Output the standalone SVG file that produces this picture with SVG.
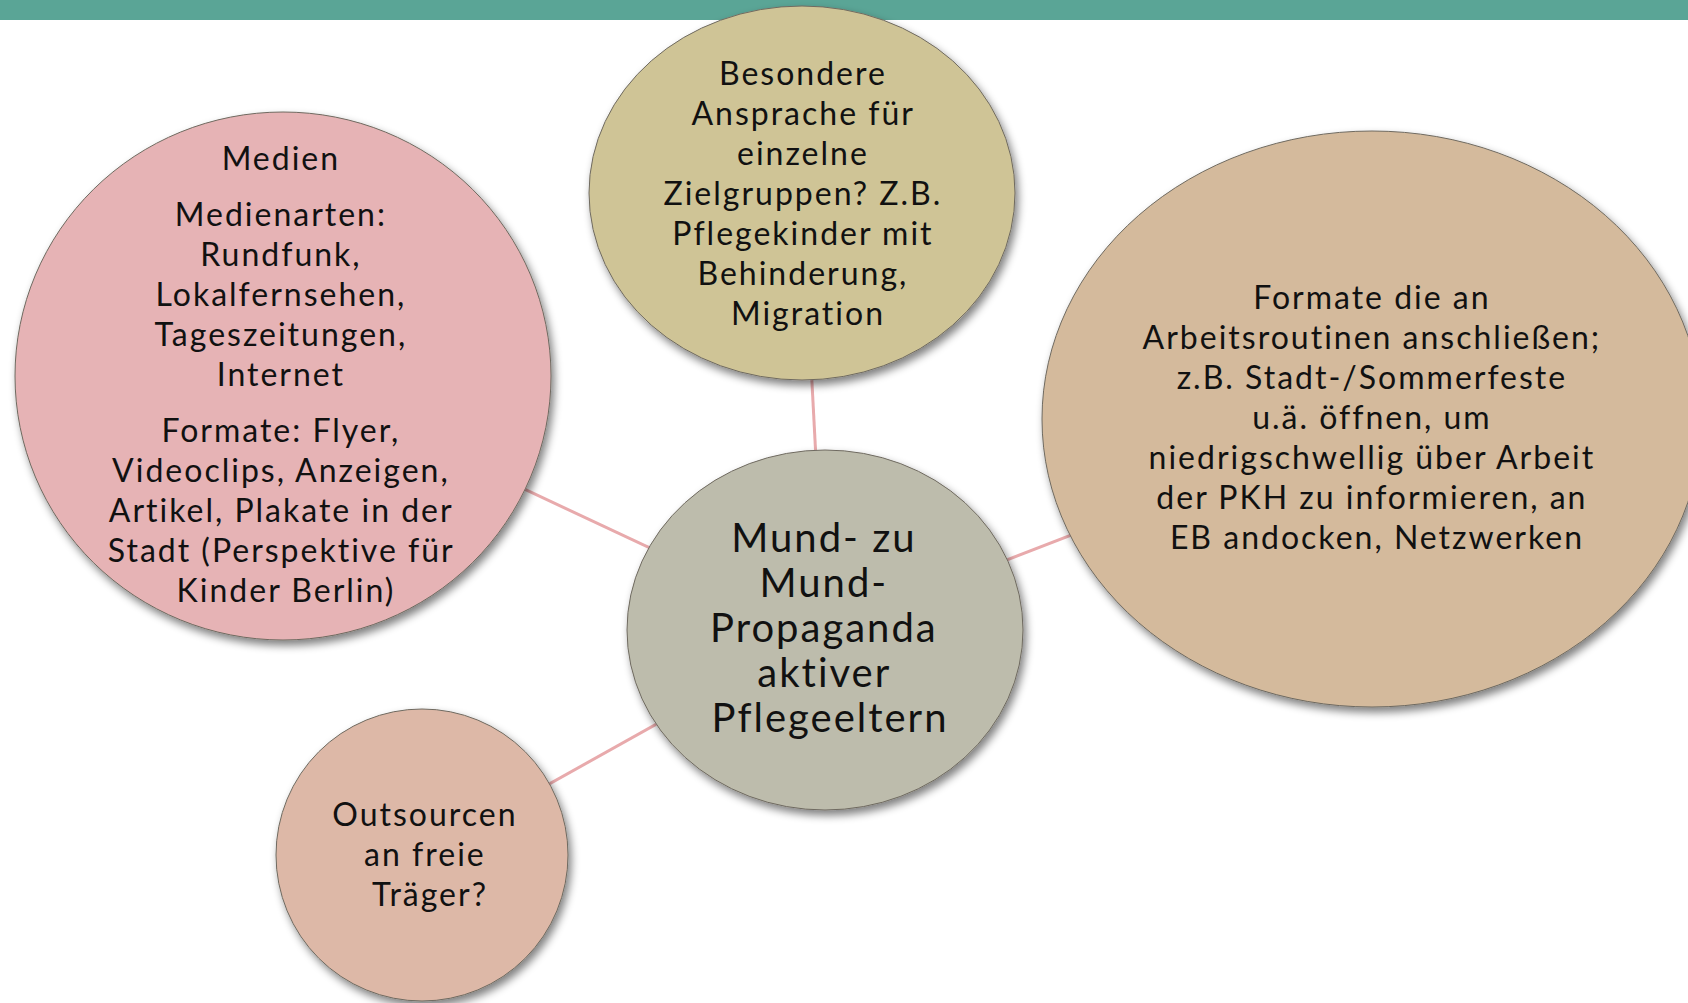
<svg xmlns="http://www.w3.org/2000/svg" width="1688" height="1003" viewBox="0 0 1688 1003">
<defs>
<filter id="sh" x="-10%" y="-10%" width="125%" height="125%">
<feGaussianBlur in="SourceAlpha" stdDeviation="4"/>
<feOffset dx="3" dy="5" result="o"/>
<feComponentTransfer><feFuncA type="linear" slope="0.5"/></feComponentTransfer>
<feMerge><feMergeNode/><feMergeNode in="SourceGraphic"/></feMerge>
</filter>
<style>
.bub{stroke:#6f6a60;stroke-width:1;filter:url(#sh)}
.t{font-family:Lato,"Liberation Sans",sans-serif;font-size:32px;fill:#111;text-anchor:middle;letter-spacing:2px}
.tc{font-size:40px}
.link{stroke:#E8AAAC;stroke-width:3;fill:none}
</style>
</defs>
<rect x="0" y="0" width="1688" height="20" fill="#5AA596"/>
<g id="connectors">
<line class="link" x1="825" y1="630" x2="283" y2="376"/>
<line class="link" x1="825" y1="630" x2="802" y2="193"/>
<line class="link" x1="825" y1="630" x2="1372" y2="419"/>
<line class="link" x1="825" y1="630" x2="422" y2="855"/>
</g>
<g id="node-medien">
<ellipse class="bub" cx="283" cy="376" rx="268" ry="264" fill="#E6B3B5"/>
<text class="t">
<tspan x="286" y="170">Medien</tspan>
<tspan x="286" y="226">Medienarten:</tspan>
<tspan x="286" y="266">Rundfunk,</tspan>
<tspan x="286" y="306">Lokalfernsehen,</tspan>
<tspan x="286" y="346">Tageszeitungen,</tspan>
<tspan x="286" y="386">Internet</tspan>
<tspan x="286" y="442">Formate: Flyer,</tspan>
<tspan x="286" y="482">Videoclips, Anzeigen,</tspan>
<tspan x="286" y="522">Artikel, Plakate in der</tspan>
<tspan x="286" y="562">Stadt (Perspektive für</tspan>
<tspan x="286" y="602">Kinder Berlin)</tspan>
</text>
</g>
<g id="node-zielgruppen">
<ellipse class="bub" cx="802" cy="193" rx="213" ry="187" fill="#CFC496"/>
<text class="t">
<tspan x="808" y="85">Besondere</tspan>
<tspan x="808" y="125">Ansprache für</tspan>
<tspan x="808" y="165">einzelne</tspan>
<tspan x="808" y="205">Zielgruppen? Z.B.</tspan>
<tspan x="808" y="245">Pflegekinder mit</tspan>
<tspan x="808" y="285">Behinderung,</tspan>
<tspan x="808" y="325">Migration</tspan>
</text>
</g>
<g id="node-formate">
<ellipse class="bub" cx="1372" cy="419" rx="330" ry="288" fill="#D4BA9C"/>
<text class="t">
<tspan x="1377" y="309">Formate die an</tspan>
<tspan x="1377" y="349">Arbeitsroutinen anschließen;</tspan>
<tspan x="1377" y="389">z.B. Stadt-/Sommerfeste</tspan>
<tspan x="1377" y="429">u.ä. öffnen, um</tspan>
<tspan x="1377" y="469">niedrigschwellig über Arbeit</tspan>
<tspan x="1377" y="509">der PKH zu informieren, an</tspan>
<tspan x="1377" y="549">EB andocken, Netzwerken</tspan>
</text>
</g>
<g id="node-center">
<ellipse class="bub" cx="825" cy="630" rx="198" ry="180" fill="#BDBCAC"/>
<text class="t tc">
<tspan x="830" y="552">Mund- zu</tspan>
<tspan x="830" y="597">Mund-</tspan>
<tspan x="830" y="642">Propaganda</tspan>
<tspan x="830" y="687">aktiver</tspan>
<tspan x="830" y="732">Pflegeeltern</tspan>
</text>
</g>
<g id="node-outsourcen">
<ellipse class="bub" cx="422" cy="855" rx="146" ry="146" fill="#DDB8A7"/>
<text class="t">
<tspan x="430" y="826">Outsourcen</tspan>
<tspan x="430" y="866">an freie</tspan>
<tspan x="430" y="906">Träger?</tspan>
</text>
</g>
</svg>
